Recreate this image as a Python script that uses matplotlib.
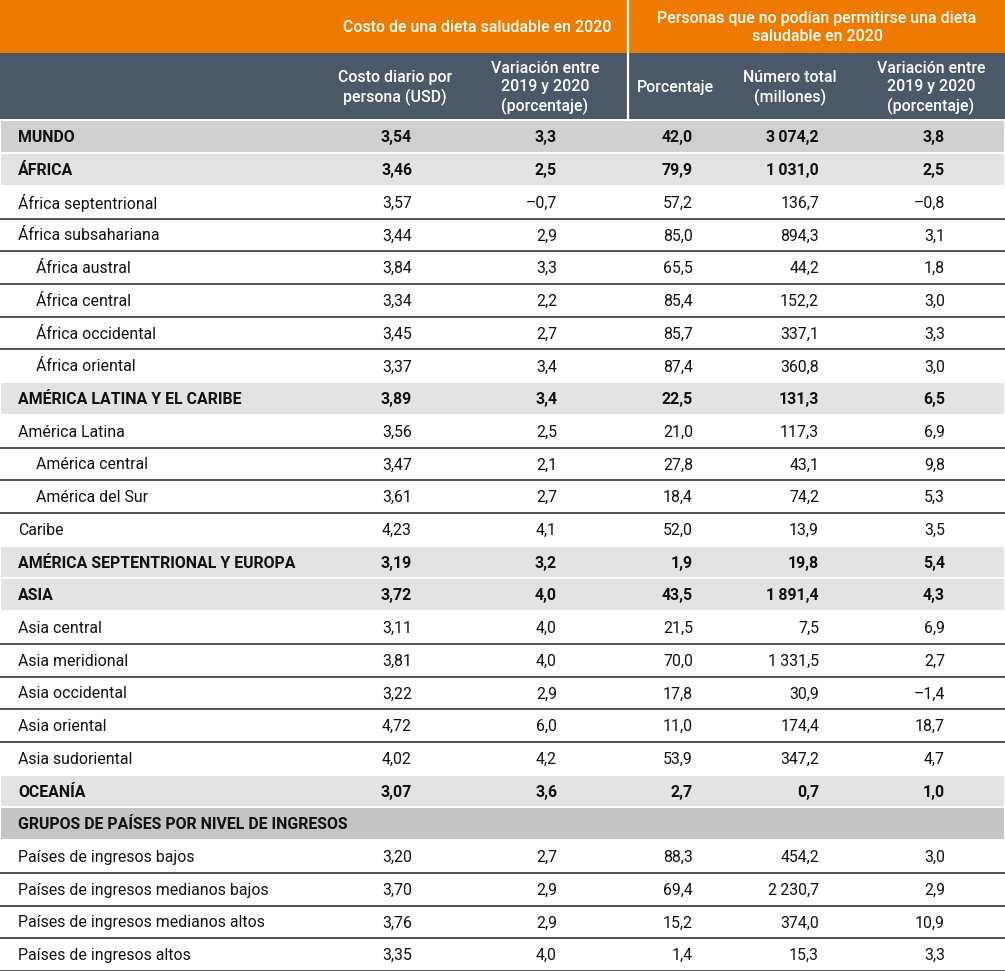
import matplotlib
matplotlib.use("Agg")
import matplotlib.pyplot as plt

plt.rcParams['font.family'] = ['Roboto', 'DejaVu Sans']

# filas de la tabla
labels = ["MUNDO", "ÁFRICA", "África septentrional", "África subsahariana",
          "África austral", "África central", "África occidental", "África oriental",
          "AMÉRICA LATINA Y EL CARIBE", "América Latina", "América central",
          "América del Sur", "Caribe", "AMÉRICA SEPTENTRIONAL Y EUROPA", "ASIA",
          "Asia central", "Asia meridional", "Asia occidental", "Asia oriental",
          "Asia sudoriental", "OCEANÍA", "GRUPOS DE PAÍSES POR NIVEL DE INGRESOS",
          "Países de ingresos bajos", "Países de ingresos medianos bajos",
          "Países de ingresos medianos altos", "Países de ingresos altos"]
# world / region / plain / group
kinds = ["world", "region", "plain", "plain", "plain", "plain", "plain", "plain",
         "region", "plain", "plain", "plain", "plain", "region", "region",
         "plain", "plain", "plain", "plain", "plain", "region", "group",
         "plain", "plain", "plain", "plain"]
indent = [0, 0, 0, 0, 1, 1, 1, 1, 0, 0, 1, 1, 0, 0, 0, 0, 0, 0, 0, 0, 0, 0, 0, 0, 0, 0]

costo = [3.54, 3.46, 3.57, 3.44, 3.84, 3.34, 3.45, 3.37, 3.89, 3.56, 3.47, 3.61, 4.23,
         3.19, 3.72, 3.11, 3.81, 3.22, 4.72, 4.02, 3.07, None, 3.20, 3.70, 3.76, 3.35]
var_costo = [3.3, 2.5, -0.7, 2.9, 3.3, 2.2, 2.7, 3.4, 3.4, 2.5, 2.1, 2.7, 4.1,
             3.2, 4.0, 4.0, 4.0, 2.9, 6.0, 4.2, 3.6, None, 2.7, 2.9, 2.9, 4.0]
porcentaje = [42.0, 79.9, 57.2, 85.0, 65.5, 85.4, 85.7, 87.4, 22.5, 21.0, 27.8, 18.4, 52.0,
              1.9, 43.5, 21.5, 70.0, 17.8, 11.0, 53.9, 2.7, None, 88.3, 69.4, 15.2, 1.4]
numero = [3074.2, 1031.0, 136.7, 894.3, 44.2, 152.2, 337.1, 360.8, 131.3, 117.3, 43.1, 74.2,
          13.9, 19.8, 1891.4, 7.5, 1331.5, 30.9, 174.4, 347.2, 0.7, None, 454.2, 2230.7,
          374.0, 15.3]
var_personas = [3.8, 2.5, -0.8, 3.1, 1.8, 3.0, 3.3, 3.0, 6.5, 6.9, 9.8, 5.3, 3.5,
                5.4, 4.3, 6.9, 2.7, -1.4, 18.7, 4.7, 1.0, None, 3.0, 2.9, 10.9, 3.3]

group_titles = ["Costo de una dieta saludable en 2020",
                "Personas que no podían permitirse una dieta\nsaludable en 2020"]
col_titles = ["Costo diario por\npersona (USD)", "Variación entre\n2019 y 2020\n(porcentaje)",
              "Porcentaje", "Número total\n(millones)", "Variación entre\n2019 y 2020\n(porcentaje)"]

ORANGE = "#EE7B00"
SLATE = "#4B5867"
fills = {"world": "#D0D0D0", "region": "#E3E3E3", "group": "#C5C5C5"}


def fmt(v, dec):
    if v is None:
        return ""
    s = f"{abs(v):,.{dec}f}".replace(",", "\u2009").replace(".", ",")
    return ("\u2013" if v < 0 else "") + s


W, H = 1005, 971
fig = plt.figure(figsize=(W / 100, H / 100), dpi=100)
ax = fig.add_axes([0, 0, 1, 1])
ax.set_xlim(0, W)
ax.set_ylim(H, 0)
ax.axis("off")

orange_bot = 53
head_bot = 120.5
row_h = (H - head_bot) / len(labels)
divider_x = 627.5

# cabecera
ax.axhspan(0, orange_bot, color=ORANGE, lw=0)
ax.axhspan(orange_bot, head_bot, color=SLATE, lw=0)
ax.plot([divider_x, divider_x], [0, head_bot], color="white", lw=1.6)

fs = 11.4
hfs = 11.4
ax.text(477, orange_bot / 2 + 1, group_titles[0], color="white", fontsize=hfs,
        fontweight="medium", ha="center", va="center")
ax.text(817, orange_bot / 2 + 1, group_titles[1], color="white", fontsize=hfs,
        fontweight="medium", ha="center", va="center", linespacing=1.3)

col_right = [412, 557, 693, 819, 945]
col_center = [395, 545, 675, 790, 931]
for cx, t in zip(col_center, col_titles):
    ax.text(cx, (orange_bot + head_bot) / 2 + 1, t, color="white", fontsize=hfs,
            fontweight="medium", ha="center", va="center", linespacing=1.28)

columns = [(costo, 2), (var_costo, 1), (porcentaje, 1), (numero, 1), (var_personas, 1)]

for i, lab in enumerate(labels):
    top = head_bot + i * row_h
    yc = top + row_h / 2
    k = kinds[i]
    bold = k != "plain"
    if k in fills:
        ax.barh(yc, W, height=row_h, left=0, color=fills[k], edgecolor="white", lw=1.4)
    ax.text(18 + 18 * indent[i], yc + 1, lab, fontsize=fs, va="center", ha="left",
            fontweight="bold" if bold else "normal", color="#111111")
    for (vals, dec), xr in zip(columns, col_right):
        ax.text(xr, yc + 1, fmt(vals[i], dec), fontsize=fs, va="center", ha="right",
                fontweight="bold" if bold else "normal", color="#111111")
    # linea separadora entre filas normales
    nxt = kinds[i + 1] if i + 1 < len(labels) else "plain"
    if k == "plain" and nxt == "plain":
        ax.plot([0, W], [top + row_h, top + row_h], color="#333333", lw=1.2,
                solid_capstyle="butt")

fig.savefig("out.png", dpi=100)
